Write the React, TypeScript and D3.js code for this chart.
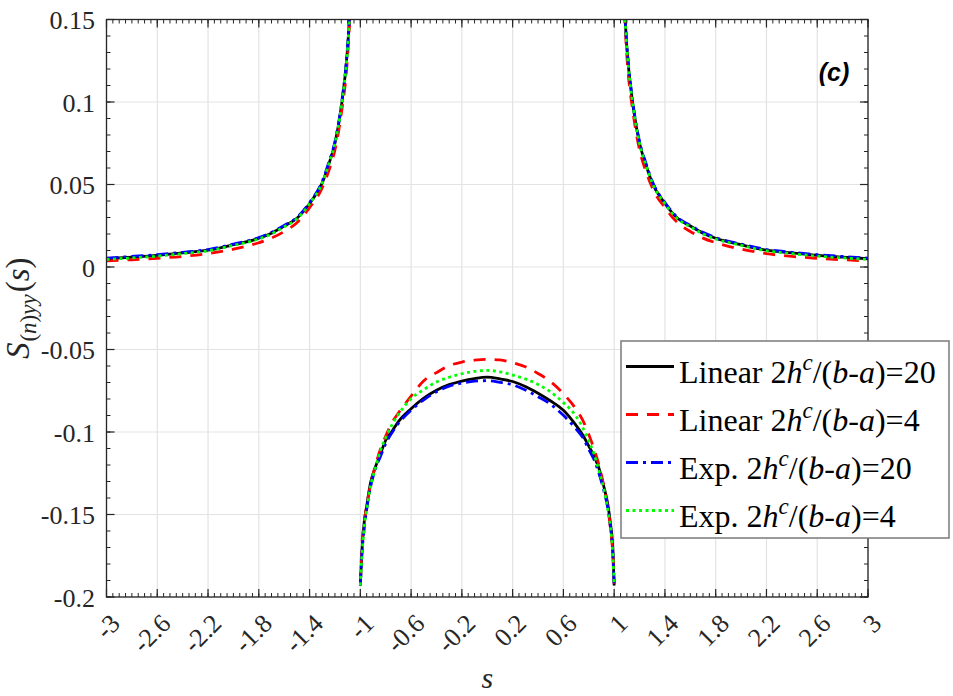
import React from 'react';
import * as d3 from 'd3';

const W = 953;
const H = 696;
const PL = 106.5, PR = 868, PT = 19.5, PB = 597;

const xTickValues = [-3, -2.6, -2.2, -1.8, -1.4, -1, -0.6, -0.2, 0.2, 0.6, 1, 1.4, 1.8, 2.2, 2.6, 3];
const xTickLabels = ['-3', '-2.6', '-2.2', '-1.8', '-1.4', '-1', '-0.6', '-0.2', '0.2', '0.6', '1', '1.4', '1.8', '2.2', '2.6', '3'];
const yTickValues = [0.15, 0.1, 0.05, 0, -0.05, -0.1, -0.15, -0.2];
const yTickLabels = ['0.15', '0.1', '0.05', '0', '-0.05', '-0.1', '-0.15', '-0.2'];

// outer branches (|s| > 1), mirrored for s < -1
const outerS = [1.08, 1.1, 1.15, 1.2, 1.25, 1.3, 1.4, 1.5, 1.6, 1.7, 1.8, 2.0, 2.2, 2.4, 2.6, 2.8, 3.0];
const outerLinear20 = [0.158, 0.133, 0.097, 0.075, 0.062, 0.051, 0.0385, 0.0295, 0.0248, 0.0205, 0.0174, 0.0135, 0.0102, 0.0085, 0.0071, 0.006, 0.005];
const outerLinear4 = [0.155, 0.128, 0.093, 0.071, 0.058, 0.048, 0.036, 0.0268, 0.0215, 0.0175, 0.0147, 0.0108, 0.0081, 0.0064, 0.0053, 0.0044, 0.0037];
const outerExp20 = [0.158, 0.134, 0.098, 0.076, 0.063, 0.052, 0.039, 0.03, 0.0252, 0.021, 0.0178, 0.0139, 0.0106, 0.0089, 0.0075, 0.0064, 0.0054];
const outerExp4 = [0.158, 0.133, 0.097, 0.075, 0.062, 0.051, 0.0383, 0.0292, 0.0244, 0.02, 0.017, 0.0131, 0.0098, 0.0081, 0.0066, 0.0055, 0.0046];

// inner branch (-1 <= s <= 1)
const innerS = [-1, -0.99, -0.97, -0.95, -0.92, -0.88, -0.84, -0.8, -0.75, -0.7, -0.6, -0.5, -0.4, -0.3, -0.2, -0.1, 0, 0.1, 0.2, 0.3, 0.4, 0.5, 0.6, 0.7, 0.75, 0.8, 0.84, 0.88, 0.92, 0.95, 0.97, 0.99, 1];
const innerLinear20 = [-0.193, -0.1756, -0.155, -0.145, -0.131, -0.121, -0.113, -0.105, -0.0995, -0.0937, -0.0859, -0.0795, -0.0747, -0.0713, -0.0691, -0.0676, -0.0668, -0.0678, -0.0694, -0.0724, -0.0765, -0.0812, -0.0868, -0.096, -0.1015, -0.1085, -0.1145, -0.122, -0.1335, -0.144, -0.155, -0.1715, -0.193];
const innerLinear4 = [-0.192, -0.172, -0.155, -0.145, -0.132, -0.12, -0.11, -0.1025, -0.0942, -0.0885, -0.0782, -0.0689, -0.064, -0.0598, -0.0576, -0.0565, -0.056, -0.0563, -0.058, -0.0605, -0.0645, -0.0695, -0.0768, -0.0862, -0.0925, -0.1015, -0.11, -0.12, -0.1335, -0.146, -0.158, -0.175, -0.192];
const innerExp20 = [-0.193, -0.177, -0.159, -0.147, -0.1335, -0.122, -0.1145, -0.107, -0.1003, -0.0948, -0.0868, -0.0805, -0.0756, -0.0722, -0.0704, -0.0692, -0.0689, -0.0699, -0.0714, -0.0745, -0.0786, -0.0832, -0.0899, -0.0982, -0.103, -0.1105, -0.1165, -0.125, -0.136, -0.146, -0.157, -0.175, -0.193];
const innerExp4 = [-0.193, -0.178, -0.158, -0.147, -0.133, -0.1215, -0.111, -0.1035, -0.0955, -0.0893, -0.0798, -0.0743, -0.0697, -0.0668, -0.0647, -0.0632, -0.0627, -0.0635, -0.0655, -0.0678, -0.0712, -0.0758, -0.0822, -0.0905, -0.097, -0.1055, -0.113, -0.1235, -0.135, -0.147, -0.157, -0.1756, -0.193];

const seriesNames = ['Linear', 'Linear', 'Exp.', 'Exp.'];
const seriesRatios = ['20', '4', '20', '4'];

const series = [
  { name: seriesNames[0], ratio: seriesRatios[0], outer: outerLinear20, inner: innerLinear20, color: '#000000', dash: null as string | null },
  { name: seriesNames[1], ratio: seriesRatios[1], outer: outerLinear4, inner: innerLinear4, color: '#ff0000', dash: '12,9' },
  { name: seriesNames[2], ratio: seriesRatios[2], outer: outerExp20, inner: innerExp20, color: '#0000ff', dash: '12,5,3,5' },
  { name: seriesNames[3], ratio: seriesRatios[3], outer: outerExp4, inner: innerExp4, color: '#00ff00', dash: '3,3.5' },
];

const x = d3.scaleLinear().domain([-3, 3]).range([PL, PR]);
const y = d3.scaleLinear().domain([-0.2, 0.15]).range([PB, PT]);

const line = d3.line<[number, number]>()
  .x(d => x(d[0]))
  .y(d => y(d[1]))
  .curve(d3.curveMonotoneX);

const axisColor = '#262626';
const gridColor = '#e3e3e3';
const serif = 'Liberation Serif';

export default function App() {
  const xMinor = d3.range(-3, 3.0001, 0.05);
  const yMinor = d3.range(-0.2, 0.15001, 0.01);

  const paths = series.map(s => {
    const right: [number, number][] = outerS.map((v, i) => [v, s.outer[i]]);
    const left: [number, number][] = outerS.map((v, i) => [-v, s.outer[i]] as [number, number]).reverse();
    const inner: [number, number][] = innerS.map((v, i) => [v, s.inner[i]]);
    return { s, d: [line(left), line(inner), line(right)] };
  });

  const legX = 621, legY = 341, legW = 328, legH = 197;

  return (
    <svg width={W} height={H} style={{ position: 'absolute', left: 0, top: 0, background: '#fff', fontFamily: 'Liberation Serif' }}>
      <defs>
        <clipPath id="plotclip">
          <rect x={PL} y={PT} width={PR - PL} height={PB - PT} />
        </clipPath>
      </defs>
      <rect x={0} y={0} width={W} height={H} fill="#fff" />
      {/* grid */}
      {xTickValues.map((v, i) => (
        <line key={'gx' + i} x1={x(v)} x2={x(v)} y1={PT} y2={PB} stroke={gridColor} strokeWidth={1.2} />
      ))}
      {yTickValues.map((v, i) => (
        <line key={'gy' + i} x1={PL} x2={PR} y1={y(v)} y2={y(v)} stroke={gridColor} strokeWidth={1.2} />
      ))}
      {/* curves */}
      <g clipPath="url(#plotclip)">
        {paths.map((p, i) => p.d.map((d, j) => (
          <path key={'p' + i + '_' + j} d={d || ''} fill="none" stroke={p.s.color} strokeWidth={2.8}
            strokeDasharray={p.s.dash || undefined} />
        )))}
      </g>
      {/* axes box */}
      <rect x={PL} y={PT} width={PR - PL} height={PB - PT} fill="none" stroke={axisColor} strokeWidth={1.3} />
      {/* minor ticks */}
      {xMinor.map((v, i) => (
        <g key={'xm' + i}>
          <line x1={x(v)} x2={x(v)} y1={PB} y2={PB - 4} stroke={axisColor} strokeWidth={1} />
          <line x1={x(v)} x2={x(v)} y1={PT} y2={PT + 4} stroke={axisColor} strokeWidth={1} />
        </g>
      ))}
      {yMinor.map((v, i) => (
        <g key={'ym' + i}>
          <line x1={PL} x2={PL + 4} y1={y(v)} y2={y(v)} stroke={axisColor} strokeWidth={1} />
          <line x1={PR} x2={PR - 4} y1={y(v)} y2={y(v)} stroke={axisColor} strokeWidth={1} />
        </g>
      ))}
      {/* major ticks */}
      {xTickValues.map((v, i) => (
        <g key={'xM' + i}>
          <line x1={x(v)} x2={x(v)} y1={PB} y2={PB - 8} stroke={axisColor} strokeWidth={1.2} />
          <line x1={x(v)} x2={x(v)} y1={PT} y2={PT + 8} stroke={axisColor} strokeWidth={1.2} />
        </g>
      ))}
      {yTickValues.map((v, i) => (
        <g key={'yM' + i}>
          <line x1={PL} x2={PL + 8} y1={y(v)} y2={y(v)} stroke={axisColor} strokeWidth={1.2} />
          <line x1={PR} x2={PR - 8} y1={y(v)} y2={y(v)} stroke={axisColor} strokeWidth={1.2} />
        </g>
      ))}
      {/* y tick labels */}
      {yTickValues.map((v, i) => (
        <text key={'yl' + i} x={95} y={y(v) + 9.5} textAnchor="end" fontFamily={serif} fontSize={26} fill={axisColor}>
          {yTickLabels[i]}
        </text>
      ))}
      {/* x tick labels */}
      {xTickValues.map((v, i) => (
        <text key={'xl' + i} transform={`translate(${x(v) + 9},${619}) rotate(-45)`} textAnchor="end"
          dominantBaseline="central" fontFamily={serif} fontSize={26} fill={axisColor}>
          {xTickLabels[i]}
        </text>
      ))}
      {/* x label */}
      <text x={(PL + PR) / 2} y={688} textAnchor="middle" fontFamily={serif} fontStyle="italic" fontSize={30} fill={axisColor}>s</text>
      {/* y label */}
      <text transform={`translate(29,${(PT + PB) / 2}) rotate(-90)`} textAnchor="middle" fontFamily={serif} fontSize={33} fill={axisColor}>
        <tspan fontStyle="italic">S</tspan>
        <tspan fontSize={23} dy={7} dx={1}>(</tspan>
        <tspan fontSize={23} fontStyle="italic">n</tspan>
        <tspan fontSize={23}>)</tspan>
        <tspan fontSize={23} fontStyle="italic">yy</tspan>
        <tspan dy={-7} dx={2}>(</tspan>
        <tspan fontStyle="italic">s</tspan>
        <tspan>)</tspan>
      </text>
      {/* (c) */}
      <text x={834} y={81} textAnchor="middle" fontFamily="Liberation Sans" fontWeight="bold" fontStyle="italic" fontSize={25} fill="#000">(c)</text>
      {/* legend */}
      <rect x={legX} y={legY} width={legW} height={legH} fill="#fff" stroke="#7a7a7a" strokeWidth={1.5} />
      {series.map((s, i) => {
        const by = 383 + i * 48;
        const ly = by - 16.5;
        return (
          <g key={'lg' + i}>
            <line x1={626} x2={674} y1={ly} y2={ly} stroke={s.color} strokeWidth={2.8} strokeDasharray={s.dash || undefined} />
            <text x={679} y={by} fontFamily={serif} fontSize={32} fill="#000">
              <tspan>{s.name} 2</tspan>
              <tspan fontStyle="italic">h</tspan>
              <tspan fontStyle="italic" fontSize={23} dy={-13}>c</tspan>
              <tspan dy={13}>/(</tspan>
              <tspan fontStyle="italic">b</tspan>
              <tspan>-</tspan>
              <tspan fontStyle="italic">a</tspan>
              <tspan>)={s.ratio}</tspan>
            </text>
          </g>
        );
      })}
    </svg>
  );
}
